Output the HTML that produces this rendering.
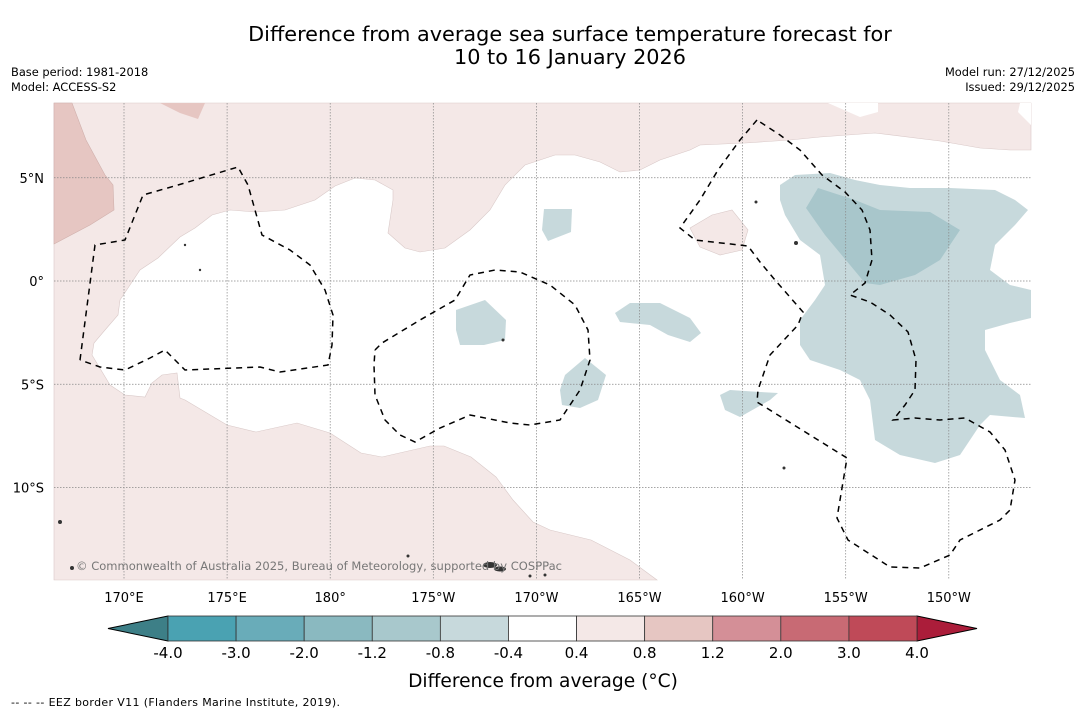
<!DOCTYPE html>
<html><head><meta charset="utf-8"><style>
body{margin:0;background:#fff;width:1085px;height:713px;overflow:hidden;font-family:"DejaVu Sans","Liberation Sans",sans-serif;}
svg text{font-family:"DejaVu Sans","Liberation Sans",sans-serif;}
</style></head><body>
<svg id="chart" width="1085" height="713" viewBox="0 0 1085 713" xmlns="http://www.w3.org/2000/svg">
<text x="570" y="41" font-size="20.8" text-anchor="middle" fill="#000">Difference from average sea surface temperature forecast for</text>
<text x="570" y="64" font-size="20.8" text-anchor="middle" fill="#000">10 to 16 January 2026</text>
<text x="11" y="76" font-size="11.4">Base period: 1981-2018</text>
<text x="11" y="91" font-size="11.4">Model: ACCESS-S2</text>
<text x="1075" y="76" font-size="11.4" text-anchor="end">Model run: 27/12/2025</text>
<text x="1075" y="91" font-size="11.4" text-anchor="end">Issued: 29/12/2025</text>

<g>
<rect x="54" y="103" width="977" height="477" fill="#fff"/>
<polygon fill="#f4e8e7" stroke="#d9c9c8" stroke-width="0.6" points="54,103 1031,103 1031,150 1010,150 980,148 940,141 875,133 820,137 790,140 745,143 700,145 690,150 660,160 640,170 620,172 600,162 575,155 555,155 525,165 505,185 490,210 470,230 445,248 420,252 405,248 388,233 393,200 393,190 375,180 355,178 335,186 315,200 285,210 255,212 230,210 212,215 195,228 180,237 158,258 140,270 120,300 118,315 105,330 94,343 92,355 110,385 125,395 145,397 152,383 162,375 177,373 180,398 185,400 227,425 256,432 297,423 330,433 361,453 382,457 430,446 444,446 471,457 496,477 513,500 533,522 550,530 591,540 630,560 657,580 54,580"/>
<polygon fill="#fff" points="828,103 860,117 878,112 878,103"/>
<polygon fill="#fff" points="1020,103 1018,112 1031,125 1031,103"/>
<polygon fill="#e6c6c2" stroke="#d0b0ac" stroke-width="0.6" points="54,103 72,103 86,140 105,175 113,185 114,210 90,225 54,244"/>
<polygon fill="#e6c6c2" points="160,103 205,103 198,119 180,113"/>
<polygon fill="#f4e8e7" stroke="#d9c9c8" stroke-width="0.6" points="690,228 712,215 732,210 748,230 742,250 720,255 700,247"/>
<g fill="#c7d9dc">
<polygon points="544,209 572,209 571,232 548,241 542,230"/>
<polygon points="456,310 485,300 506,320 505,340 484,345 460,345 456,330"/>
<polygon points="615,313 630,303 660,303 690,318 701,333 690,342 668,335 650,325 620,322"/>
<polygon points="565,375 585,358 606,375 598,400 580,408 562,405 560,390"/>
<polygon points="720,395 730,390 760,392 778,393 770,400 740,417 725,410"/>
<polygon points="780,185 795,175 830,173 855,180 880,185 910,188 950,188 995,190 1015,200 1028,210 1015,225 995,245 990,270 1010,285 1031,290 1031,318 1010,323 985,330 985,350 1000,380 1020,395 1025,418 990,415 980,425 960,455 935,463 900,455 875,440 870,400 860,380 840,370 810,360 800,345 800,320 815,300 825,285 820,255 800,240 785,215 780,200"/>
</g>
<polygon fill="#a8c6cb" points="806,208 818,188 855,200 880,210 930,212 960,230 940,260 915,275 880,285 865,283 850,265 825,235"/>
<g id="grid" stroke="#888" stroke-width="0.7" stroke-dasharray="1.5,1.5" fill="none"></g>
<g fill="none" stroke="#000" stroke-width="1.5" stroke-dasharray="6,5">
<polyline points="80,360 95,245 125,240 143,195 178,185 238,167 248,185 262,235 290,250 310,265 325,290 333,315 332,345 328,365 280,372 260,367 185,370 165,350 150,358 125,370 100,367 80,360"/>
<polyline points="375,350 382,343 420,320 455,300 470,275 495,270 520,272 550,285 575,305 588,330 590,360 580,390 560,420 530,425 510,423 470,415 440,428 415,442 400,435 385,420 375,395 374,365 375,350"/>
<polyline points="757,120 740,140 718,170 700,200 680,228 695,240 748,246 760,262 775,280 803,312 798,325 770,355 758,390 757,402 847,458 837,518 848,540 890,567 920,568 950,555 960,540 1000,520 1010,510 1015,480 1005,450 990,432 965,418 940,420 915,418 893,420 905,405 915,390 916,360 908,332 890,315 870,302 850,295 865,283 872,260 870,230 862,210 845,192 822,175 800,150 780,135 757,120"/>
</g>
<g fill="#333">
<ellipse cx="490" cy="565" rx="7" ry="3"/><ellipse cx="500" cy="569" rx="6" ry="2.5"/>
<circle cx="60" cy="522" r="2"/><circle cx="72" cy="568" r="2"/><circle cx="784" cy="468" r="1.5"/><circle cx="796" cy="243" r="2"/>
<circle cx="756" cy="202" r="1.5"/><circle cx="503" cy="340" r="1.5"/><circle cx="185" cy="245" r="1.2"/><circle cx="200" cy="270" r="1.2"/>
<circle cx="530" cy="576" r="1.5"/><circle cx="545" cy="575" r="1.5"/><circle cx="408" cy="556" r="1.5"/>
</g>
<text x="76" y="570" font-size="11.5" fill="#777" textLength="486">© Commonwealth of Australia 2025, Bureau of Meteorology, supported by COSPPac</text>
</g>
<g id="axes"></g>
<g id="colorbar"></g>
<text x="543" y="687" font-size="18.6" text-anchor="middle">Difference from average (°C)</text>
<text x="11" y="706" font-size="11" textLength="329">--  --  -- EEZ border V11 (Flanders Marine Institute, 2019).</text>
</svg>
<script>
const lonTicks = [170, 175, 180, 185, 190, 195, 200, 205, 210];
const lonLabels = ["170°E","175°E","180°","175°W","170°W","165°W","160°W","155°W","150°W"];
const latTicks = [5, 0, -5, -10];
const latLabels = ["5°N","0°","5°S","10°S"];
const cbLevels = ["-4.0","-3.0","-2.0","-1.2","-0.8","-0.4","0.4","0.8","1.2","2.0","3.0","4.0"];
const cbColors = ["#4aa2b2","#69acb9","#8ab9c0","#a8c8cc","#c7d9dc","#ffffff","#f4e8e7","#e6c6c2","#d48f97","#c86a74","#bf4a58"];
const cbUnder = "#3d7f87", cbOver = "#ab1d3a";

const NS="http://www.w3.org/2000/svg";
const xLon = lon => 124 + (lon-170)*20.62;
const yLat = lat => 281 - lat*20.65;
function mk(tag, attrs, parent){const e=document.createElementNS(NS,tag);for(const k in attrs)e.setAttribute(k,attrs[k]);parent.appendChild(e);return e;}
const grid=document.getElementById('grid'), axes=document.getElementById('axes'), cb=document.getElementById('colorbar');
lonTicks.forEach((lon,i)=>{
  const x=xLon(lon);
  const l=mk('line',{x1:x,x2:x,y1:103,y2:580},grid);
  
  
  const t=mk('text',{x:x,y:602,'font-size':13,'text-anchor':'middle'},axes);
  t.textContent=lonLabels[i];
  
  
});
latTicks.forEach((lat,i)=>{
  const y=yLat(lat);
  const l=mk('line',{x1:54,x2:1031,y1:y,y2:y},grid);
  
  
  const t=mk('text',{x:44,y:y+5,'font-size':13,'text-anchor':'end'},axes);
  t.textContent=latLabels[i];
  
  
});
const cbX0=168, cbX1=917, cbY=616, cbH=25;
const cbW=(cbX1-cbX0)/cbColors.length;
const xi=i=>cbX0+i*cbW;
const under=mk('polygon',{points:`${cbX0},${cbY} 108,${cbY+cbH/2} ${cbX0},${cbY+cbH}`,fill:cbUnder,stroke:'#000','stroke-width':1},cb);


const over=mk('polygon',{points:`${cbX1},${cbY} 977,${cbY+cbH/2} ${cbX1},${cbY+cbH}`,fill:cbOver,stroke:'#000','stroke-width':1},cb);


cbColors.forEach((c,i)=>{
  const r=mk('rect',{x:xi(i),y:cbY,width:cbW,height:cbH,fill:c,stroke:'#333','stroke-width':0.8},cb);
  
  
});
cbLevels.forEach((v,i)=>{
  const t=mk('text',{x:xi(i),y:658,'font-size':15,'text-anchor':'middle'},cb);
  t.textContent=v;
  
  
});
</script>
</body></html>
